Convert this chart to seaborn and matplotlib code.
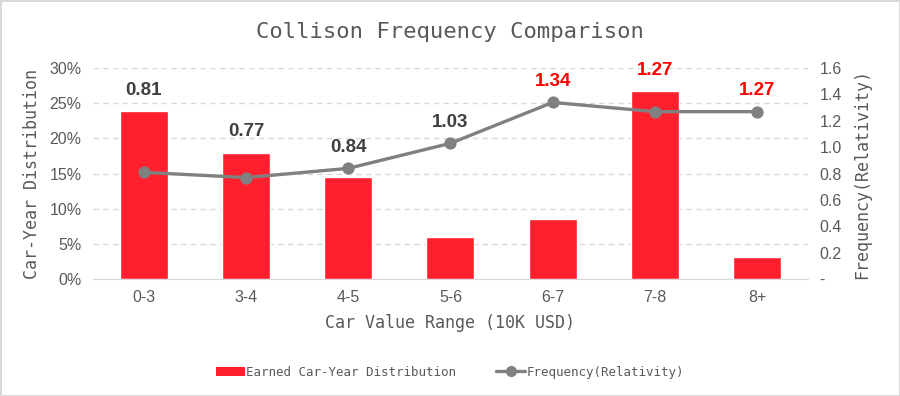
import matplotlib
matplotlib.use("Agg")
import matplotlib.pyplot as plt
import seaborn as sns
from matplotlib.ticker import FuncFormatter, MultipleLocator
from matplotlib.patches import Patch
from matplotlib.lines import Line2D

# data
value_ranges = ["0-3", "3-4", "4-5", "5-6", "6-7", "7-8", "8+"]
car_year_share = [0.239, 0.180, 0.145, 0.060, 0.086, 0.267, 0.031]
relativity = [0.81, 0.77, 0.84, 1.03, 1.34, 1.27, 1.27]

RED = "#FF1F2D"
GREY = "#808080"
TXT = "#595959"
MONO = "DejaVu Sans Mono"

sns.set_style("white")
plt.rcParams["font.family"] = ["Liberation Sans", "DejaVu Sans"]

fig, ax = plt.subplots(figsize=(9, 3.96), dpi=100)
fig.subplots_adjust(left=0.103, right=0.898, bottom=0.295, top=0.828)

sns.barplot(x=value_ranges, y=car_year_share, color=RED, width=0.47,
            saturation=1, ax=ax, zorder=2)
ax.set_ylim(0, 0.30)
ax.yaxis.set_major_locator(MultipleLocator(0.05))
ax.yaxis.set_major_formatter(FuncFormatter(lambda v, p: f"{v*100:.0f}%"))
ax.grid(axis="y", color="#D9D9D9", linestyle=(0, (4, 3)), linewidth=1, zorder=0)
ax.set_axisbelow(True)
for s in ["top", "left", "right"]:
    ax.spines[s].set_visible(False)
ax.spines["bottom"].set_color("#D9D9D9")
ax.tick_params(length=0, labelsize=11.5, labelcolor=TXT, pad=8)
ax.set_xlabel("Car Value Range (10K USD)", fontfamily=MONO, fontsize=12,
              color=TXT, labelpad=6)
ax.set_ylabel("Car-Year Distribution", fontfamily=MONO, fontsize=12,
              color=TXT, labelpad=6)

ax2 = ax.twinx()
sns.pointplot(x=value_ranges, y=relativity, color=GREY, markers="o",
              markersize=7, linewidth=2.4, ax=ax2)
ax2.set_ylim(0, 1.6)
ax2.set_xlim(-0.5, len(value_ranges) - 0.5)
ax2.yaxis.set_major_locator(MultipleLocator(0.2))
ax2.yaxis.set_major_formatter(FuncFormatter(lambda v, p: "-" if abs(v) < 1e-9 else f"{v:.1f}"))
for s in ["top", "left", "right", "bottom"]:
    ax2.spines[s].set_visible(False)
ax2.tick_params(length=0, labelsize=11.5, labelcolor=TXT, pad=8)
ax2.set_ylabel("Frequency(Relativity)", fontfamily=MONO, fontsize=12,
               color=TXT, labelpad=8)

# value labels above the higher of bar / marker
for i, (share, rel) in enumerate(zip(car_year_share, relativity)):
    top = max(share / 0.30 * 1.6, rel)
    col = "#FF0000" if rel >= 1.2 else "#404040"
    ax2.annotate(f"{rel:.2f}", (i, top), xytext=(0, 15), textcoords="offset points",
                 ha="center", va="center", fontsize=13.5, fontweight="bold", color=col)

fig.suptitle("Collison Frequency Comparison", fontfamily=MONO, fontsize=16,
             color=TXT, y=0.945)

handles = [Patch(facecolor=RED, edgecolor="none"),
           Line2D([], [], color=GREY, marker="o", markersize=7, linewidth=2.4)]
fig.legend(handles, ["Earned Car-Year Distribution", "Frequency(Relativity)"],
           loc="center", bbox_to_anchor=(0.5, 0.06), ncol=2, frameon=False,
           prop={"family": MONO, "size": 9}, labelcolor=TXT,
           handlelength=2.3, handletextpad=0.1, columnspacing=3.2)

fig.patch.set_edgecolor("#D9D9D9")
fig.patch.set_linewidth(2)
fig.savefig("out.png", dpi=100, edgecolor=fig.get_edgecolor())
